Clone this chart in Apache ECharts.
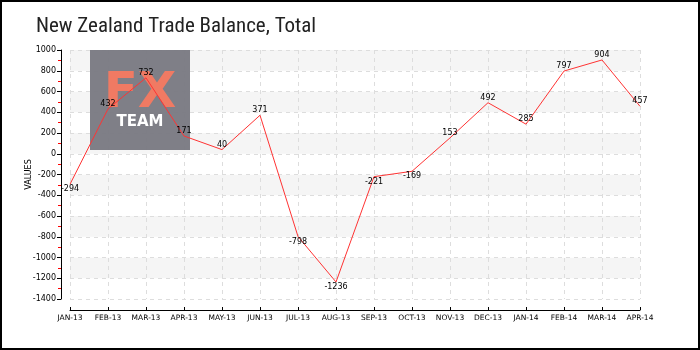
<!DOCTYPE html>
<html>
<head>
<meta charset="utf-8">
<script src="https://cdn.jsdelivr.net/npm/echarts@6/dist/echarts.min.js"></script>
<style>html,body{margin:0;padding:0;background:#fff}#c{width:700px;height:350px}</style>
</head>
<body>
<div id="c"></div>
<script>
var titleText = "New Zealand Trade Balance, Total";
var categories = ["JAN-13","FEB-13","MAR-13","APR-13","MAY-13","JUN-13","JUL-13","AUG-13","SEP-13","OCT-13","NOV-13","DEC-13","JAN-14","FEB-14","MAR-14","APR-14"];
var values = [-294, 432, 732, 171, 40, 371, -798, -1236, -221, -169, 153, 492, 285, 797, 904, 457];
var yMin = -1400, yMax = 1000, yStep = 200;
var axisName = "VALUES";

var chart = echarts.init(document.getElementById('c'), null, {renderer: 'canvas'});
var seriesData = values.map(function (v) {
  return {value: v, label: {position: v >= 0 ? 'top' : 'bottom'}};
});
chart.setOption({
  animation: false,
  backgroundColor: '#fff',
  title: {
    text: titleText, left: 31, top: 11,
    textStyle: {fontFamily: "'Liberation Sans Narrow', 'Roboto Condensed', 'Roboto', sans-serif", fontSize: 21, fontWeight: 'normal', color: '#222'}
  },
  graphic: [
    {type: 'rect', z: 200, silent: true, shape: {x: 1, y: 1, width: 698, height: 348}, style: {fill: 'none', stroke: '#000', lineWidth: 2}},
    {type: 'rect', z: 5, shape: {x: 90, y: 50, width: 100, height: 100}, style: {fill: '#7b7b83', opacity: 0.97}},
    {type: 'text', z: 6, style: {text: 'FX', x: 140, y: 94, align: 'center', verticalAlign: 'middle', fill: '#f07a63', font: 'bold 50px "DejaVu Sans", sans-serif'}},
    {type: 'text', z: 6, style: {text: 'TEAM', x: 140, y: 122, align: 'center', verticalAlign: 'middle', fill: '#ffffff', font: 'bold 15px "DejaVu Sans", sans-serif'}}
  ],
  grid: {left: 70, right: 60, top: 50, bottom: 51, containLabel: false},
  xAxis: {
    type: 'category', data: categories, boundaryGap: false, offset: 11,
    axisLine: {onZero: false, lineStyle: {color: '#000', width: 1}},
    axisTick: {inside: true, length: 3, lineStyle: {color: '#000'}},
    axisLabel: {fontFamily: 'DejaVu Sans', fontSize: 7.5, color: '#000', margin: 4, interval: 0},
    splitLine: {show: true, lineStyle: {color: '#dddddd', type: [4, 4]}}
  },
  yAxis: {
    type: 'value', min: yMin, max: yMax, interval: yStep, offset: 9,
    name: axisName, nameLocation: 'middle', nameGap: 28, nameMoveOverlap: false,
    nameTextStyle: {fontFamily: 'DejaVu Sans', fontSize: 8, color: '#000'},
    axisLine: {show: true, lineStyle: {color: '#000'}},
    axisTick: {show: true, length: 4, lineStyle: {color: '#000'}},
    minorTick: {show: true, splitNumber: 2, length: 3, lineStyle: {color: '#ff0000'}},
    axisLabel: {fontFamily: 'DejaVu Sans', fontSize: 8, color: '#000', margin: 5, formatter: function (v) { return String(v); }},
    splitLine: {show: true, lineStyle: {color: '#dddddd', type: [4, 4]}},
    splitArea: {show: true, areaStyle: {color: ['#ffffff', '#f5f5f5']}}
  },
  series: [{
    type: 'line', data: seriesData, z: 100, showSymbol: true, symbol: 'circle', symbolSize: 0,
    itemStyle: {color: '#ff3333'},
    lineStyle: {color: '#ff3333', width: 1},
    label: {show: true, distance: 1, fontFamily: 'DejaVu Sans', fontSize: 8, color: '#000'}
  }]
});
</script>
</body>
</html>
